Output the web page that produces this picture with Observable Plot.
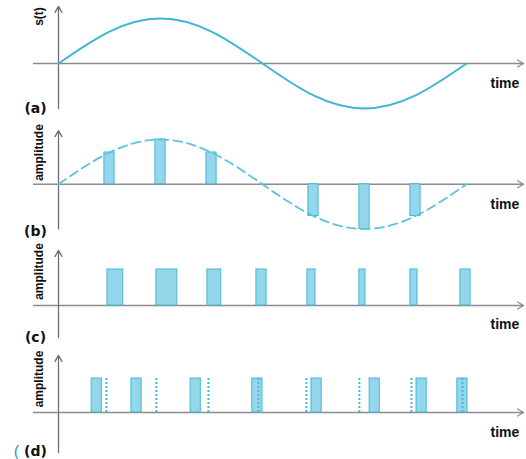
<!DOCTYPE html>
<html>
<head>
<meta charset="utf-8">
<script src="https://cdn.jsdelivr.net/npm/d3@7"></script>
<script src="https://cdn.jsdelivr.net/npm/@observablehq/plot@0.6"></script>
<style>
  html, body { margin: 0; padding: 0; background: #fff; overflow: hidden; }
  #chart svg { display: block; overflow: visible; background: transparent; }
</style>
</head>
<body>
<div id="chart"></div>
<script>
// ---- data ----
// signal s(t), read at the 8 sampling instants of one period
const curveT = [0, 1, 2, 3, 4, 5, 6, 7, 8];
const curveV = [0, 0.71, 1, 0.71, 0, -0.71, -1, -0.71, 0];

// (b) PAM samples
const pamT = [1, 2, 3, 5, 6, 7];
const pamV = [0.71, 1, 0.71, -0.71, -1, -0.71];
const pamWidth = 0.2;

// (c) PWM pulses: start time and width
const pwmStart = [0.96, 1.92, 2.92, 3.88, 4.88, 5.90, 6.90, 7.88];
const pwmWidth = [0.31, 0.41, 0.27, 0.20, 0.16, 0.12, 0.14, 0.20];

// (d) PPM pulses: start time, fixed width; dotted reference instants
const ppmStart = [0.65, 1.43, 2.59, 3.80, 4.96, 6.10, 7.02, 7.82];
const ppmWidth = 0.2;
const ppmRef = [0.94, 1.92, 2.94, 3.92, 4.86, 5.90, 6.92, 7.92];

const panelLetters = ["(a)", "(b)", "(c)", "(d)"];
const yLabels = ["s(t)", "amplitude", "amplitude", "amplitude"];
const xLabel = "time";

// ---- styles ----
const LINE = "#3db6d4";
const DASH = "#5cc4e0";
const FILL = "#94d6ea";
const EDGE = "#45b8d6";
const AXIS = "#8c8c8c";
const FONT = "Liberation Sans, Arial, sans-serif";
const HEAVY = "DejaVu Sans, sans-serif";

const curve = curveT.map((t, i) => ({t, v: curveV[i]}));

// each panel: top = its pixel offset; positions given in page pixels
function panel(cfg) {
  const top = cfg.top;
  const marks = [
    Plot.arrow([0], {x1: -0.49, x2: 9.12, y1: 0, y2: 0, stroke: AXIS, strokeWidth: 1.3, headLength: 8, headAngle: 60}),
    Plot.arrow([0], {x1: 0, x2: 0, y1: cfg.axisLo, y2: cfg.axisHi, stroke: "#6e6e6e", strokeWidth: 1.3, headLength: 8, headAngle: 60}),
    ...cfg.marks,
    Plot.text([cfg.ylabel], {frameAnchor: "top-left", dx: 34, dy: cfg.ylabelY - top, rotate: -90, text: d => d, fontSize: 12, fontWeight: "bold", fill: "#111", textAnchor: "middle", fontFamily: FONT}),
    Plot.text([cfg.letter], {frameAnchor: "top-left", dx: 35, dy: cfg.letterY - top, text: d => d, fontSize: 14, fontWeight: "bold", fill: "#111", textAnchor: "middle", fontFamily: HEAVY}),
    Plot.text([xLabel], {frameAnchor: "top-left", dx: 490, dy: cfg.timeY - top, text: d => d, fontSize: 14, fontWeight: "bold", fill: "#111", textAnchor: "start", fontFamily: FONT})
  ];
  if (cfg.extra) marks.push(...cfg.extra(top));
  return Plot.plot({
    width: 526,
    height: cfg.h,
    margin: 0,
    style: {background: "transparent", overflow: "visible"},
    x: {domain: [0, 8], range: [58, 466], axis: null},
    y: {domain: cfg.yDomain, range: cfg.yRange.map(v => v - top), axis: null},
    marks
  });
}

const el = document.getElementById("chart");

// (a)  page y 0..118
el.append(panel({
  top: 0, h: 118, yDomain: [-1, 1], yRange: [108, 18], axisLo: -1, axisHi: 1.27,
  ylabel: yLabels[0], ylabelY: 16, letter: panelLetters[0], letterY: 103, timeY: 78,
  marks: [
    Plot.line(curve, {x: "t", y: "v", curve: "natural", stroke: LINE, strokeWidth: 2})
  ]
}));

// (b)  page y 118..236
el.append(panel({
  top: 118, h: 118, yDomain: [-1, 1], yRange: [228.5, 139], axisLo: -1, axisHi: 1.2,
  ylabel: yLabels[1], ylabelY: 152, letter: panelLetters[1], letterY: 226, timeY: 199,
  marks: [
    Plot.rect(pamT, {x1: t => t - pamWidth / 2, x2: t => t + pamWidth / 2, y1: 0, y2: (t, i) => pamV[i], fill: FILL, stroke: EDGE, strokeWidth: 1, inset: 0}),
    Plot.line(curve, {x: "t", y: "v", curve: "natural", stroke: DASH, strokeWidth: 1.8, strokeDasharray: "9,5"})
  ]
}));

// (c)  page y 236..342
el.append(panel({
  top: 236, h: 106, yDomain: [0, 1], yRange: [305, 269], axisLo: -0.89, axisHi: 1.53,
  ylabel: yLabels[2], ylabelY: 271, letter: panelLetters[2], letterY: 332, timeY: 319,
  marks: [
    Plot.rect(pwmStart, {x1: d => d, x2: (d, i) => d + pwmWidth[i], y1: 0, y2: 1, fill: FILL, stroke: EDGE, strokeWidth: 1, inset: 0})
  ]
}));

// (d)  page y 342..459
el.append(panel({
  top: 342, h: 117, yDomain: [0, 1], yRange: [412, 378], axisLo: -1.18, axisHi: 1.68,
  ylabel: yLabels[3], ylabelY: 378.5, letter: panelLetters[3], letterY: 446, timeY: 427,
  marks: [
    Plot.rect(ppmStart, {x1: d => d, x2: d => d + ppmWidth, y1: 0, y2: 1, fill: FILL, stroke: EDGE, strokeWidth: 1, inset: 0}),
    Plot.ruleX(ppmRef, {x: d => d, y1: 0, y2: 1, stroke: EDGE, strokeWidth: 2, strokeDasharray: "2,2"})
  ],
  extra: top => [
    Plot.text(["("], {frameAnchor: "top-left", dx: 16, dy: 445 - top, text: d => d, fontSize: 16, fill: "#3a8fd6", textAnchor: "middle", fontFamily: FONT})
  ]
}));
</script>
</body>
</html>
